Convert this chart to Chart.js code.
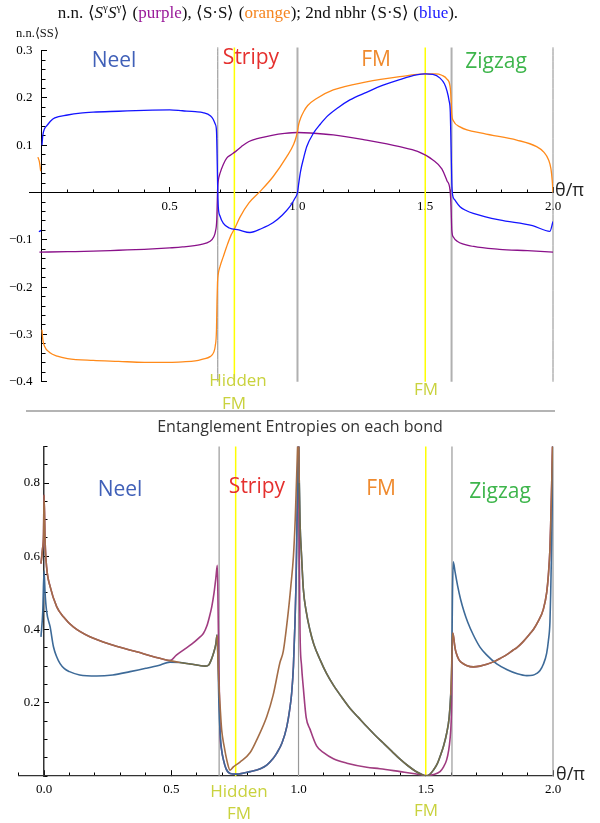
<!DOCTYPE html>
<html><head><meta charset="utf-8">
<script src="https://cdn.jsdelivr.net/npm/chart.js@4"></script>
<style>
html,body{margin:0;padding:0;background:#fff;}
#wrap{position:relative;width:600px;height:823px;overflow:hidden;background:#fff;}
canvas{position:absolute;left:0;}
.t{position:absolute;white-space:nowrap;line-height:1;}
.ph{font-family:"Open Sans",sans-serif;font-size:21px;transform:translateX(-50%);}
.hf{font-family:"Open Sans",sans-serif;font-size:17px;color:#c9d23e;transform:translateX(-50%);}
</style></head>
<body><div id="wrap">
<canvas id="c1" width="600" height="410" style="top:0"></canvas>
<canvas id="c2" width="600" height="413" style="top:410px"></canvas>
<div class="t" id="title" style="left:258px;top:4px;transform:translateX(-50%);font-family:'Liberation Serif',serif;font-size:17px;color:#111;">n.n. ⟨<i>S</i><sup style="font-size:11px;line-height:0">γ</sup><i>S</i><sup style="font-size:11px;line-height:0">γ</sup>⟩ (<span style="color:#9a1a9a">purple</span>), ⟨S·S⟩ (<span style="color:#f5851f">orange</span>); 2nd nbhr ⟨S·S⟩ (<span style="color:#1a1aff">blue</span>).</div>
<div class="t" style="left:16px;top:27px;font-family:'Liberation Serif',serif;font-size:12.5px;color:#111;">n.n.⟨SS⟩</div>
<div class="t ph" style="left:114px;top:49px;color:#4060b8;">Neel</div>
<div class="t ph" style="left:251px;top:46px;color:#e5302e;">Stripy</div>
<div class="t ph" style="left:376px;top:48px;color:#ef8a2e;">FM</div>
<div class="t ph" style="left:496px;top:50px;color:#3db54b;">Zigzag</div>
<div class="t" style="left:555px;top:180px;font-family:'Open Sans',sans-serif;font-size:18px;color:#222;">θ/π</div>
<div class="t hf" style="left:238px;top:371px;">Hidden</div>
<div class="t hf" style="left:234px;top:394px;">FM</div>
<div class="t hf" style="left:426px;top:380px;">FM</div>
<div style="position:absolute;left:26px;top:410px;width:529px;height:2px;background:#b4b4b4;"></div>
<div class="t" style="left:300px;top:418px;transform:translateX(-50%);font-family:'Open Sans',sans-serif;font-size:16px;color:#333;">Entanglement Entropies on each bond</div>
<div class="t ph" style="left:120px;top:478px;color:#4060b8;">Neel</div>
<div class="t ph" style="left:257px;top:475px;color:#e5302e;">Stripy</div>
<div class="t ph" style="left:381px;top:477px;color:#ef8a2e;">FM</div>
<div class="t ph" style="left:500px;top:480px;color:#3db54b;">Zigzag</div>
<div class="t" style="left:556px;top:764px;font-family:'Open Sans',sans-serif;font-size:18px;color:#222;">θ/π</div>
<div class="t hf" style="left:239px;top:782px;">Hidden</div>
<div class="t hf" style="left:239px;top:804px;">FM</div>
<div class="t hf" style="left:426px;top:801px;">FM</div>
</div>
<script>
// ---------------- DATA ----------------
const topXTickValues = [0, 0.5, 1.0, 1.5, 2.0];
const topXTickLabels = ['', '0.5', '1.0', '1.5', '2.0'];
const topYTickValues = [-0.4, -0.3, -0.2, -0.1, 0, 0.1, 0.2, 0.3];
const topYTickLabels = ['\u22120.4', '\u22120.3', '\u22120.2', '\u22120.1', '', '0.1', '0.2', '0.3'];
const botXTickValues = [0, 0.5, 1.0, 1.5, 2.0];
const botXTickLabels = ['0.0', '0.5', '1.0', '1.5', '2.0'];
const botYTickValues = [0.2, 0.4, 0.6, 0.8];
const botYTickLabels = ['0.2', '0.4', '0.6', '0.8'];

const phaseBoundaries = [0.688, 1.0, 1.603, 2.0];
const fmMarkers = [0.753, 1.5];

// top panel: n.n. <S^g S^g> (purple)
const nnSgX = [-0.01,0.1,0.2,0.3,0.4,0.5,0.55,0.62,0.658,0.672,0.679,0.684,0.686,0.6875,0.69,0.697,0.71,0.723,0.74,0.753,0.78,0.81,0.85,0.9,0.95,1.0,1.05,1.14,1.27,1.35,1.4,1.47,1.53,1.565,1.585,1.597,1.601,1.604,1.61,1.625,1.69,1.79,1.9,2.0];
const nnSgY = [-0.126,-0.125,-0.124,-0.122,-0.12,-0.117,-0.115,-0.11,-0.103,-0.094,-0.082,-0.058,-0.02,0.01,0.025,0.041,0.06,0.073,0.08,0.085,0.097,0.108,0.115,0.121,0.125,0.127,0.126,0.122,0.111,0.103,0.097,0.087,0.069,0.05,0.025,0.005,-0.03,-0.08,-0.094,-0.103,-0.114,-0.12,-0.123,-0.126];
// top panel: n.n. <S.S> (orange)
const nnSSX = [-0.016,-0.01,-0.005,-0.002,0.0,0.003,0.01,0.03,0.06,0.1,0.2,0.3,0.4,0.5,0.55,0.6,0.63,0.658,0.672,0.678,0.683,0.685,0.687,0.69,0.697,0.71,0.723,0.74,0.753,0.775,0.81,0.853,0.905,0.958,0.985,0.995,1.0,1.005,1.012,1.025,1.04,1.075,1.14,1.27,1.4,1.5,1.54,1.565,1.585,1.597,1.601,1.604,1.61,1.636,1.727,1.858,1.936,1.965,1.982,1.992,1.997,2.0];
const nnSSY = [0.075,0.065,0.045,null,-0.29,-0.31,-0.325,-0.338,-0.346,-0.351,-0.355,-0.357,-0.359,-0.359,-0.358,-0.356,-0.352,-0.347,-0.338,-0.325,-0.29,-0.23,-0.19,-0.172,-0.156,-0.135,-0.114,-0.09,-0.077,-0.052,-0.022,0.002,0.034,0.076,0.102,0.118,0.13,0.145,0.157,0.172,0.184,0.199,0.217,0.234,0.245,0.251,0.251,0.248,0.24,0.225,0.2,0.165,0.152,0.139,0.125,0.111,0.097,0.085,0.07,0.05,0.025,0.0];
// top panel: 2nd nbhr <S.S> (blue)
const nnnSSX = [-0.012,-0.004,-0.002,0.0,0.003,0.01,0.02,0.035,0.05,0.1,0.15,0.2,0.3,0.4,0.5,0.55,0.6,0.63,0.66,0.67,0.678,0.683,0.686,0.688,0.69,0.697,0.71,0.733,0.77,0.814,0.86,0.904,0.94,0.97,0.99,1.0,1.005,1.012,1.025,1.036,1.062,1.09,1.114,1.16,1.205,1.27,1.335,1.4,1.466,1.5,1.53,1.558,1.575,1.585,1.593,1.598,1.601,1.604,1.607,1.615,1.636,1.66,1.688,1.79,1.92,1.988,2.0];
const nnnSSY = [-0.083,-0.08,null,0.1,0.12,0.135,0.142,0.152,0.158,0.164,0.168,0.17,0.172,0.174,0.175,0.173,0.171,0.169,0.162,0.155,0.145,0.13,0.06,0.0,-0.03,-0.05,-0.065,-0.075,-0.079,-0.0845,-0.076,-0.064,-0.048,-0.03,-0.012,0.0,0.02,0.045,0.075,0.097,0.125,0.145,0.16,0.18,0.196,0.212,0.227,0.239,0.249,0.251,0.25,0.242,0.23,0.215,0.195,0.17,0.1,0.02,-0.005,-0.015,-0.03,-0.038,-0.044,-0.058,-0.07,-0.082,-0.061];

// bottom panel: entanglement entropies (three bonds)
const entBlueX = [-0.012,-0.005,0.0,0.004,0.01,0.024,0.037,0.05,0.063,0.08,0.1,0.14,0.207,0.27,0.338,0.4,0.45,0.495,0.534,0.574,0.633,0.648,0.659,0.668,0.675,0.68,0.684,0.687,0.692,0.698,0.705,0.715,0.731,0.757,0.81,0.85,0.875,0.9,0.914,0.935,0.954,0.965,0.973,0.98,0.986,0.99,0.993,0.997,1.0,1.003,1.006,1.012,1.019,1.03,1.045,1.06,1.085,1.11,1.137,1.17,1.202,1.235,1.268,1.3,1.333,1.366,1.399,1.43,1.46,1.485,1.5,1.515,1.53,1.545,1.556,1.57,1.582,1.592,1.598,1.602,1.605,1.608,1.615,1.625,1.637,1.65,1.665,1.687,1.713,1.74,1.779,1.82,1.86,1.897,1.92,1.936,1.949,1.962,1.975,1.982,1.988,1.991,1.995,1.998,2.0];
const entBlueY = [0.38,0.45,0.56,0.5,0.45,0.407,0.353,0.325,0.307,0.293,0.285,0.276,0.273,0.276,0.285,0.294,0.302,0.311,0.31,0.306,0.3,0.304,0.321,0.34,0.36,0.385,0.3,0.2,0.116,0.07,0.044,0.02,0.007,0.005,0.012,0.02,0.03,0.048,0.062,0.09,0.135,0.18,0.226,0.3,0.417,0.52,0.644,0.826,0.95,0.8,0.69,0.6,0.51,0.45,0.398,0.36,0.317,0.28,0.248,0.215,0.185,0.16,0.135,0.112,0.09,0.068,0.046,0.028,0.013,0.004,0.0,0.004,0.016,0.033,0.053,0.082,0.116,0.16,0.22,0.3,0.5,0.585,0.558,0.52,0.482,0.45,0.42,0.385,0.352,0.33,0.306,0.29,0.279,0.274,0.275,0.28,0.288,0.305,0.335,0.37,0.42,0.5,0.644,0.8,0.95];
const entBrownX = [-0.012,-0.006,-0.002,0.0,0.004,0.01,0.024,0.05,0.076,0.115,0.18,0.272,0.364,0.469,0.495,0.534,0.574,0.633,0.648,0.659,0.668,0.675,0.68,0.684,0.687,0.692,0.698,0.708,0.718,0.731,0.744,0.77,0.81,0.84,0.875,0.9,0.927,0.94,0.96,0.97,0.98,0.987,0.993,1.0,1.003,1.006,1.012,1.019,1.03,1.045,1.06,1.085,1.11,1.137,1.17,1.202,1.235,1.268,1.3,1.333,1.366,1.399,1.43,1.46,1.485,1.5,1.515,1.53,1.545,1.556,1.57,1.582,1.592,1.598,1.602,1.605,1.608,1.615,1.62,1.63,1.64,1.66,1.687,1.713,1.74,1.77,1.792,1.82,1.844,1.857,1.88,1.91,1.923,1.94,1.962,1.975,1.982,1.988,1.991,1.995,1.997,2.0];
const entBrownY = [0.58,0.62,0.66,0.767,0.644,0.571,0.517,0.462,0.435,0.407,0.38,0.357,0.339,0.319,0.315,0.31,0.306,0.3,0.304,0.321,0.34,0.36,0.385,0.3,0.25,0.189,0.126,0.08,0.044,0.016,0.025,0.038,0.064,0.105,0.162,0.22,0.31,0.34,0.45,0.52,0.6,0.7,0.826,0.95,0.8,0.69,0.6,0.51,0.45,0.398,0.36,0.317,0.28,0.248,0.215,0.185,0.16,0.135,0.112,0.09,0.068,0.046,0.028,0.013,0.004,0.0,0.004,0.016,0.033,0.053,0.082,0.116,0.16,0.22,0.3,0.39,0.385,0.35,0.335,0.318,0.31,0.302,0.298,0.3,0.305,0.313,0.321,0.332,0.344,0.35,0.365,0.389,0.4,0.42,0.455,0.5,0.55,0.62,0.689,0.8,0.871,0.95];
const entPurpleX = [-0.012,-0.006,-0.002,0.0,0.004,0.01,0.024,0.05,0.076,0.115,0.18,0.272,0.364,0.469,0.495,0.52,0.55,0.58,0.61,0.626,0.64,0.65,0.659,0.668,0.675,0.681,0.684,0.687,0.692,0.698,0.705,0.715,0.731,0.757,0.81,0.85,0.875,0.9,0.914,0.935,0.954,0.965,0.973,0.98,0.986,0.99,0.993,0.997,1.0,1.003,1.006,1.012,1.019,1.03,1.045,1.071,1.1,1.137,1.19,1.268,1.32,1.4,1.45,1.49,1.504,1.53,1.556,1.57,1.582,1.59,1.595,1.6,1.602,1.605,1.608,1.615,1.62,1.63,1.64,1.66,1.687,1.713,1.74,1.77,1.792,1.82,1.844,1.857,1.88,1.91,1.923,1.94,1.962,1.975,1.982,1.988,1.991,1.995,1.997,2.0];
const entPurpleY = [0.58,0.62,0.66,0.767,0.644,0.571,0.517,0.462,0.435,0.407,0.38,0.357,0.339,0.319,0.315,0.33,0.345,0.36,0.378,0.389,0.41,0.435,0.462,0.5,0.54,0.575,0.45,0.3,0.116,0.07,0.044,0.02,0.007,0.005,0.012,0.02,0.03,0.048,0.062,0.09,0.135,0.18,0.226,0.3,0.417,0.52,0.644,0.826,0.95,0.6,0.39,0.3,0.24,0.16,0.128,0.082,0.063,0.047,0.035,0.024,0.02,0.012,0.007,0.002,0.001,0.004,0.012,0.025,0.044,0.07,0.098,0.15,0.207,0.39,0.385,0.35,0.335,0.318,0.31,0.302,0.298,0.3,0.305,0.313,0.321,0.332,0.344,0.35,0.365,0.389,0.4,0.42,0.455,0.5,0.55,0.62,0.689,0.8,0.871,0.95];

// ---------------- HELPERS ----------------
const pts = (X, Y) => X.map((x, i) => ({x: x, y: Y[i]}));
function stepTicks(a, b, s) { const n = Math.round((b - a) / s); const r = []; for (let i = 0; i <= n; i++) r.push({value: +(a + i * s).toFixed(4)}); return r; }
function vLines(xs, y0, y1, color, width) {
  return xs.map(x => ({data: [{x: x, y: y0}, {x: x, y: y1}], borderColor: color, borderWidth: width, pointRadius: 0, order: 20, clip: false, tension: 0}));
}
const serif = {family: "'Liberation Serif', 'Times New Roman', serif", size: 13};
function majorScale(min, max, pos, vals, tl, color, bw, labels, pad) {
  return {
    type: 'linear', min: min, max: max, position: pos,
    afterBuildTicks: s => { s.ticks = vals.map(v => ({value: v})); },
    ticks: labels ? {callback: (v, i) => labels[i], autoSkip: false, maxRotation: 0, font: serif, color: '#000', padding: pad} : {display: false},
    grid: {display: true, drawOnChartArea: false, drawTicks: true, tickLength: tl, tickColor: '#000', tickWidth: 1},
    border: {display: true, color: color, width: bw}
  };
}
function labelScale(min, max, atX, vals, labels) {
  return {
    type: 'linear', min: min, max: max, position: {x: atX},
    afterBuildTicks: s => { s.ticks = vals.map(v => ({value: v})); },
    ticks: {callback: (v, i) => labels[i], autoSkip: false, font: serif, color: '#000', padding: 0},
    grid: {display: false, drawTicks: false},
    border: {display: false}
  };
}
function minorScale(min, max, pos, a, b, s, tl) {
  return {
    type: 'linear', min: min, max: max, position: pos,
    afterBuildTicks: sc => { sc.ticks = stepTicks(a, b, s); },
    ticks: {display: false},
    grid: {display: true, drawOnChartArea: false, drawTicks: true, tickLength: tl, tickColor: '#000', tickWidth: 1},
    border: {display: false}
  };
}
const common = {
  animation: false, responsive: false, devicePixelRatio: 1, events: [],
  plugins: {legend: {display: false}, tooltip: {enabled: false}, title: {display: false}},
  elements: {point: {radius: 0}, line: {cubicInterpolationMode: 'monotone', borderJoinStyle: 'round', fill: false}},
  spanGaps: false
};

// ---------------- TOP CHART ----------------
new Chart(document.getElementById('c1'), {
  type: 'line',
  data: {datasets: [
    {data: pts(nnnSSX, nnnSSY), borderColor: '#1414ff', borderWidth: 1.3, order: 1},
    {data: pts(nnSSX, nnSSY), borderColor: '#ff8a1a', borderWidth: 1.3, order: 2},
    {data: pts(nnSgX, nnSgY), borderColor: '#8a118a', borderWidth: 1.3, order: 3},
    ...vLines([phaseBoundaries[0], phaseBoundaries[3]], -0.4, 0.307, '#8c8c8c', 1),
    ...vLines([phaseBoundaries[1], phaseBoundaries[2]], -0.4, 0.307, '#b0b0b0', 2),
    ...vLines(fmMarkers, -0.4, 0.307, '#ffff00', 1.5)
  ]},
  options: Object.assign({}, common, {
    layout: {padding: {left: 29.2, right: 47, top: 50.7, bottom: 28.3}},
    scales: {
      x: majorScale(-0.05, 2.0, {y: 0}, topXTickValues, -6, '#000', 1, topXTickLabels, 12),
      xm: minorScale(-0.05, 2.0, {y: 0}, 0, 2.0, 0.1, -3.5),
      y: majorScale(-0.4, 0.3, {x: 0}, topYTickValues, -6, '#000', 1),
      ym: minorScale(-0.4, 0.3, {x: 0}, -0.4, 0.3, 0.02, -3.5),
      ylab: labelScale(-0.4, 0.3, -0.037, topYTickValues, topYTickLabels)
    }
  })
});

// ---------------- BOTTOM CHART ----------------
new Chart(document.getElementById('c2'), {
  type: 'line',
  data: {datasets: [
    {data: pts(entBrownX, entBrownY), borderColor: '#a36d47', borderWidth: 1.6, order: 1,
     segment: {borderColor: c => ((c.p0.parsed.x >= 1.003 && c.p1.parsed.x <= 1.6) || (c.p0.parsed.x >= 0.5 && c.p1.parsed.x <= 0.68)) ? '#746c47' : undefined}},
    {data: pts(entBlueX, entBlueY), borderColor: '#3d6a98', borderWidth: 1.6, order: 2},
    {data: pts(entPurpleX, entPurpleY), borderColor: '#a03c80', borderWidth: 1.6, order: 3},
    ...vLines(phaseBoundaries, 0, 0.9, '#999999', 1.2),
    ...vLines(fmMarkers, 0, 0.9, '#ffff00', 1.5)
  ]},
  options: Object.assign({}, common, {
    layout: {padding: {left: 18.6, right: 47, top: 36.4, bottom: 47}},
    scales: {
      x: majorScale(-0.1, 2.0, {y: 0}, botXTickValues, -6, '#333', 1.2, botXTickLabels, 12),
      xm: minorScale(-0.1, 2.0, {y: 0}, -0.1, 2.0, 0.1, -3.5),
      y: majorScale(0, 0.9, {x: 0}, botYTickValues, -6, '#333', 1.5),
      ym: minorScale(0, 0.9, {x: 0}, 0, 0.9, 0.05, -3.5),
      ylab: labelScale(0, 0.9, -0.016, botYTickValues, botYTickLabels)
    }
  })
});
</script>
</body></html>
